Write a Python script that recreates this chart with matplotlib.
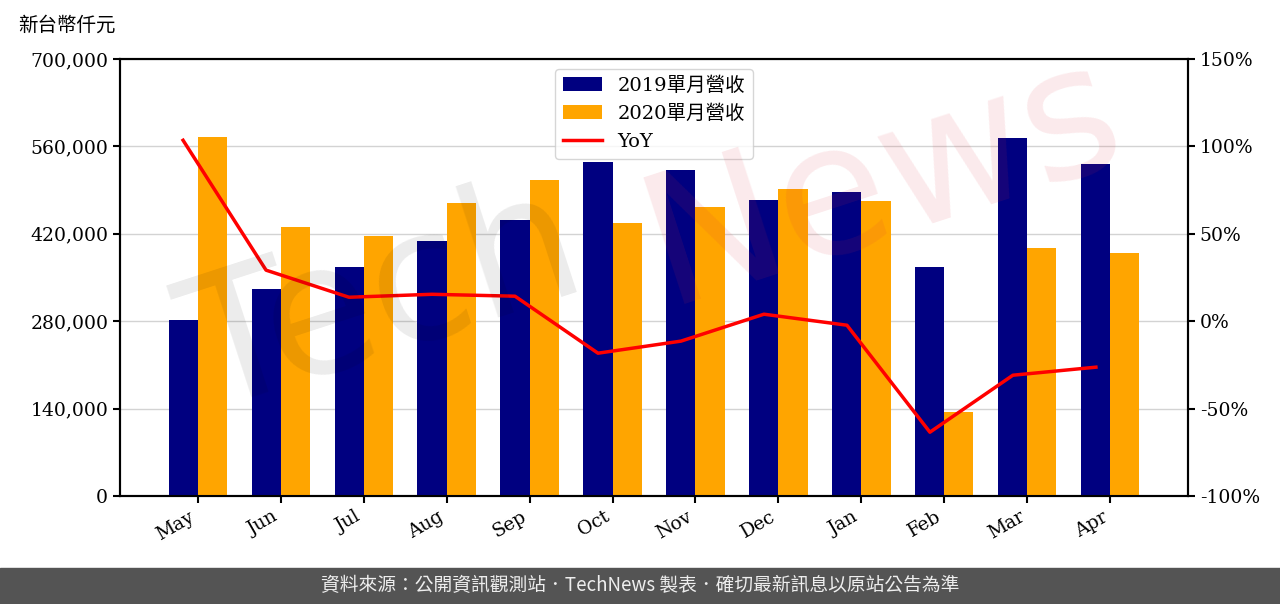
import matplotlib.pyplot as plt
import matplotlib.ticker as mticker
import numpy as np

plt.rcParams['font.family'] = ['DejaVu Serif', 'Noto Sans CJK TC']

months = ['May', 'Jun', 'Jul', 'Aug', 'Sep', 'Oct', 'Nov', 'Dec', 'Jan', 'Feb', 'Mar', 'Apr']
rev_2019 = [282000, 331600, 366800, 408500, 442100, 535000, 522200, 474100, 487000, 366800, 573400, 531800]
rev_2020 = [575000, 430900, 416500, 469300, 506200, 437300, 462900, 491800, 472500, 134500, 397200, 389200]
yoy = [103.5, 29.2, 13.7, 15.4, 14.3, -18.3, -11.4, 4.0, -2.3, -63.5, -30.9, -26.3]

fig = plt.figure(figsize=(12.8, 6.04), dpi=100)
ax = fig.add_axes([120/1280, 1-496/604, (1188-120)/1280, (496-59)/604])

x = np.arange(len(months))
w = 0.35
ax.bar(x, rev_2019, w, color='#000080', label='2019單月營收', zorder=3)
ax.bar(x + w, rev_2020, w, color='#FFA500', label='2020單月營收', zorder=3)
ax.set_ylim(0, 700000)
ax.set_yticks(np.arange(0, 700001, 140000))
ax.yaxis.set_major_formatter(mticker.FuncFormatter(lambda v, p: f'{int(v):,}'))
ax.set_xticks(x + w / 2)
ax.set_xticklabels(months, rotation=30, ha='right')
ax.grid(axis='y', color='#d3d3d3', linewidth=1, zorder=0)

ax2 = ax.twinx()
ax2.plot(x, yoy, color='red', linewidth=2.5, label='YoY', zorder=4)
ax2.set_ylim(-100, 150)
ax2.set_yticks(np.arange(-100, 151, 50))
ax2.yaxis.set_major_formatter(mticker.FuncFormatter(lambda v, p: f'{int(v)}%'))

for a in (ax, ax2):
    a.tick_params(labelsize=13.5, width=1.5, length=5)
    for s in a.spines.values():
        s.set_linewidth(1.5)

h1, l1 = ax.get_legend_handles_labels()
h2, l2 = ax2.get_legend_handles_labels()
ax2.legend(h1 + h2, l1 + l2, loc='upper center', fontsize=14, framealpha=0.8)

# watermark, drawn over the plot like the original
fig.text(0.30, 0.50, 'Tech', fontsize=130, color='black', alpha=0.08,
         rotation=18, ha='center', va='center', family='DejaVu Sans', zorder=10)
fig.text(0.69, 0.70, 'News', fontsize=130, color='#e03040', alpha=0.10,
         rotation=18, ha='center', va='center', family='DejaVu Sans', zorder=10)

fig.text(18/1280, 1-25/604, '新台幣仟元', fontsize=14, va='center', ha='left',
         family=['Noto Sans CJK TC'])

fig.patches.append(plt.Rectangle((0, 0), 1, 36/604, transform=fig.transFigure,
                                 color='#545454', zorder=0))
fig.text(0.5, 18/604, '資料來源：公開資訊觀測站．TechNews 製表．確切最新訊息以原站公告為準',
         fontsize=13.5, color='#eeeeee', ha='center', va='center',
         family=['Noto Sans CJK TC'])

fig.savefig('out.png', dpi=100)
